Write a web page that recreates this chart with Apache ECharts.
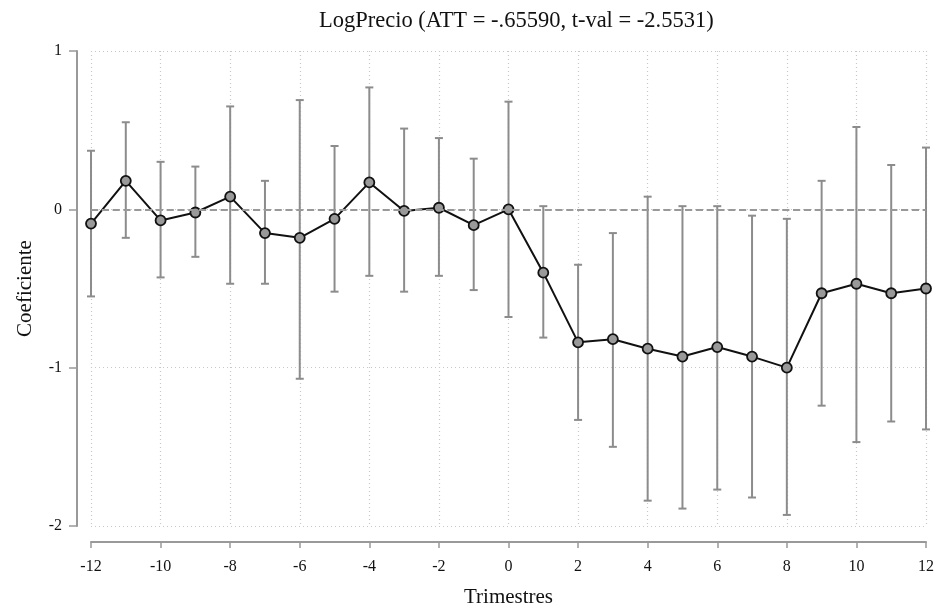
<!DOCTYPE html>
<html>
<head>
<meta charset="utf-8">
<script src="https://cdn.jsdelivr.net/npm/echarts@6/dist/echarts.min.js"></script>
<style>
  html, body { margin: 0; padding: 0; background: #fff; }
  #chart { width: 937px; height: 610px; }
</style>
</head>
<body>
<div id="chart"></div>
<script>
// trimestres relativos al tratamiento
var trimestres = [-12, -11, -10, -9, -8, -7, -6, -5, -4, -3, -2, -1, 0, 1, 2, 3, 4, 5, 6, 7, 8, 9, 10, 11, 12];
var coeficiente = [-0.09, 0.18, -0.07, -0.02, 0.08, -0.15, -0.18, -0.06, 0.17, -0.01, 0.01, -0.10, 0.00, -0.40, -0.84, -0.82, -0.88, -0.93, -0.87, -0.93, -1.00, -0.53, -0.47, -0.53, -0.50];
var limSup = [0.37, 0.55, 0.30, 0.27, 0.65, 0.18, 0.69, 0.40, 0.77, 0.51, 0.45, 0.32, 0.68, 0.02, -0.35, -0.15, 0.08, 0.02, 0.02, -0.04, -0.06, 0.18, 0.52, 0.28, 0.39];
var limInf = [-0.55, -0.18, -0.43, -0.30, -0.47, -0.47, -1.07, -0.52, -0.42, -0.52, -0.42, -0.51, -0.68, -0.81, -1.33, -1.50, -1.84, -1.89, -1.77, -1.82, -1.93, -1.24, -1.47, -1.34, -1.39];
var yTicks = [-2, -1, 0, 1];

var serif = 'Liberation Serif';

var chart = echarts.init(document.getElementById('chart'));

var puntos = [];
var barras = [];
for (var i = 0; i < trimestres.length; i++) {
    puntos.push([trimestres[i], coeficiente[i]]);
    barras.push([trimestres[i], limInf[i], limSup[i]]);
}

var options = {
    animation: false,
    title: {
        text: 'LogPrecio (ATT = -.65590, t-val = -2.5531)',
        left: 314,
        top: 5,
        textStyle: { fontFamily: serif, fontSize: 22.5, fontWeight: 'normal', color: '#111' }
    },
    grid: { left: 91, right: 11, top: 51, bottom: 84, outerBoundsMode: 'none' },
    xAxis: {
        type: 'value',
        min: -12, max: 12, interval: 2,
        offset: 16,
        name: 'Trimestres',
        nameLocation: 'middle',
        nameGap: 45,
        nameTextStyle: { fontFamily: serif, fontSize: 21, color: '#111' },
        axisLine: { show: true, onZero: false, lineStyle: { color: '#999', width: 2 } },
        axisTick: { show: true, length: 6, lineStyle: { color: '#999', width: 1.5 } },
        axisLabel: { fontFamily: serif, fontSize: 16, color: '#111', margin: 17 },
        splitLine: { show: true, lineStyle: { color: '#c8c8c8', type: [1, 3], width: 1.2 } }
    },
    yAxis: {
        type: 'value',
        min: -2, max: 1, interval: 1,
        offset: 14,
        name: 'Coeficiente',
        nameLocation: 'middle',
        nameGap: 41,
        nameTextStyle: { fontFamily: serif, fontSize: 21, color: '#111' },
        axisLine: { show: true, onZero: false, lineStyle: { color: '#999', width: 2 } },
        axisTick: { show: true, length: 8, lineStyle: { color: '#999', width: 1.5 } },
        axisLabel: {
            fontFamily: serif, fontSize: 16, color: '#111', margin: 15,
            formatter: function (v) { return yTicks.indexOf(v) >= 0 ? String(v) : ''; }
        },
        splitLine: { show: true, lineStyle: { color: '#c8c8c8', type: [1, 3], width: 1.2 } }
    },
    series: [
        {
            type: 'custom',
            name: 'IC',
            data: barras,
            z: 2,
            renderItem: function (params, api) {
                var x = api.value(0);
                var lo = api.coord([x, api.value(1)]);
                var hi = api.coord([x, api.value(2)]);
                var cap = 4;
                var st = { stroke: '#8c8c8c', lineWidth: 2 };
                return {
                    type: 'group',
                    children: [
                        { type: 'line', shape: { x1: lo[0], y1: lo[1], x2: hi[0], y2: hi[1] }, style: st },
                        { type: 'line', shape: { x1: hi[0] - cap, y1: hi[1], x2: hi[0] + cap, y2: hi[1] }, style: st },
                        { type: 'line', shape: { x1: lo[0] - cap, y1: lo[1], x2: lo[0] + cap, y2: lo[1] }, style: st }
                    ]
                };
            }
        },
        {
            type: 'line',
            name: 'Coeficiente',
            data: puntos,
            z: 3,
            symbol: 'circle',
            symbolSize: 10,
            lineStyle: { color: '#111', width: 2 },
            itemStyle: { color: '#999', borderColor: '#111', borderWidth: 1.8 },
            markLine: {
                silent: true,
                symbol: 'none',
                label: { show: false },
                lineStyle: { color: '#999', type: 'dashed', width: 1.8 },
                data: [{ yAxis: 0 }]
            }
        }
    ]
};

chart.setOption(options);
</script>
</body>
</html>
